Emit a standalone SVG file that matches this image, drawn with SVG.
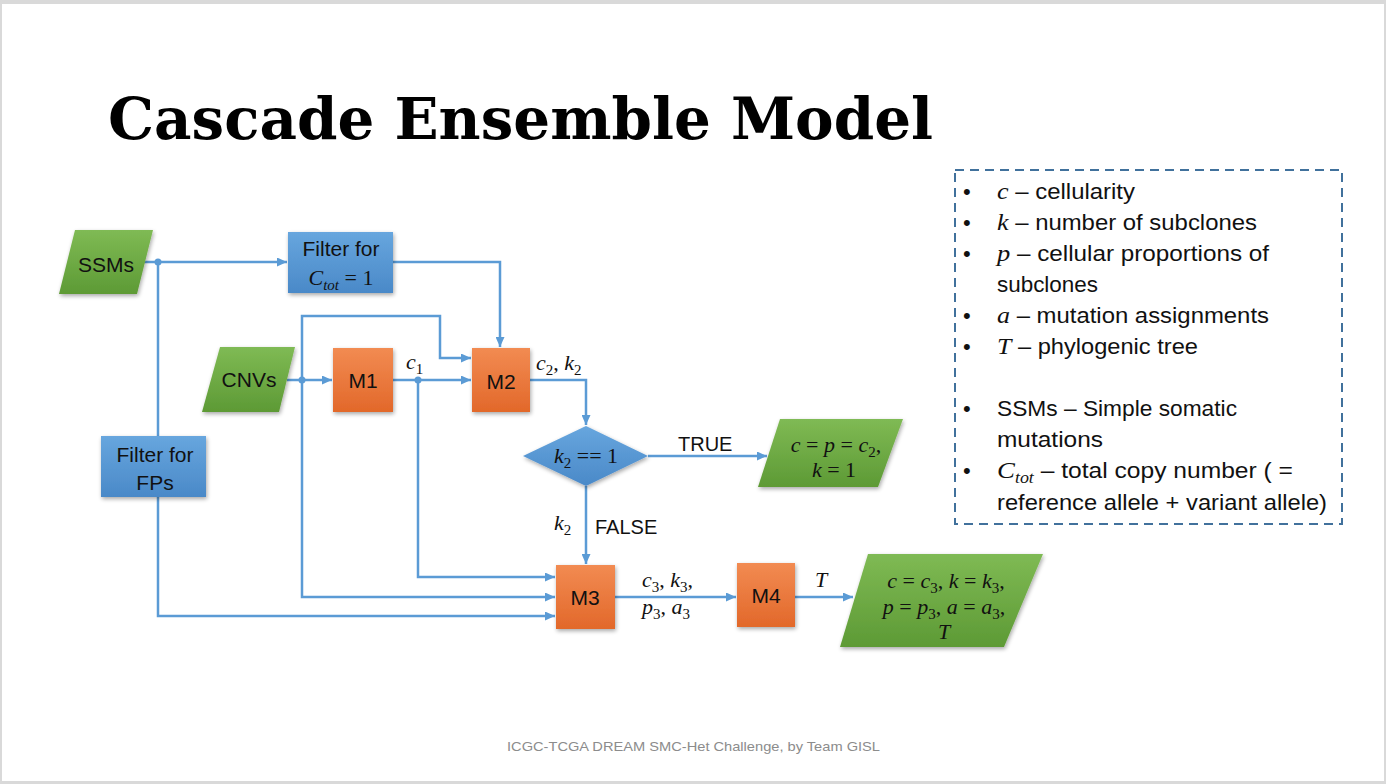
<svg xmlns="http://www.w3.org/2000/svg" width="1386" height="784" viewBox="0 0 1386 784">
  <defs>
    <linearGradient id="gBlue" x1="0" y1="0" x2="0" y2="1">
      <stop offset="0" stop-color="#67a6de"/>
      <stop offset="1" stop-color="#4a89c8"/>
    </linearGradient>
    <linearGradient id="gOrange" x1="0" y1="0" x2="0" y2="1">
      <stop offset="0" stop-color="#f28b52"/>
      <stop offset="1" stop-color="#e2682a"/>
    </linearGradient>
    <linearGradient id="gGreen" x1="0" y1="0" x2="0" y2="1">
      <stop offset="0" stop-color="#7fba54"/>
      <stop offset="1" stop-color="#5d9a35"/>
    </linearGradient>
    <filter id="shadow" x="-20%" y="-20%" width="150%" height="150%">
      <feGaussianBlur in="SourceAlpha" stdDeviation="2"/>
      <feOffset dx="1" dy="2" result="b"/>
      <feComponentTransfer><feFuncA type="linear" slope="0.35"/></feComponentTransfer>
      <feMerge><feMergeNode/><feMergeNode in="SourceGraphic"/></feMerge>
    </filter>
    <marker id="arrow" markerUnits="userSpaceOnUse" markerWidth="11" markerHeight="9" refX="10" refY="4.5" orient="auto">
      <path d="M0,0 L10,4.5 L0,9 z" fill="#5b9bd5"/>
    </marker>
    <style>
      .txt { font-family: "Liberation Sans", Arial, sans-serif; fill: #111; }
      .lbl { font-family: "Liberation Sans", Arial, sans-serif; font-size: 21px; fill: #111; text-anchor: middle; }
      .math { font-family: "Liberation Serif", "DejaVu Serif", serif; font-style: italic; fill: #111; }
      .mup { font-family: "Liberation Serif", "DejaVu Serif", serif; font-style: normal; }
      .sub { font-size: 15px; }
      .conn { fill: none; stroke: #5b9bd5; stroke-width: 2.5; }
      .dot { fill: #5b9bd5; }
      .blue { fill: url(#gBlue); filter: url(#shadow); }
      .orange { fill: url(#gOrange); filter: url(#shadow); }
      .green { fill: url(#gGreen); filter: url(#shadow); }
      .legend { font-family: "Liberation Sans", Arial, sans-serif; font-size: 22px; fill: #111; }
    </style>
  </defs>

  <!-- slide frame -->
  <rect x="0" y="0" width="1386" height="784" fill="#d9d9d9"/>
  <rect x="2" y="4" width="1382" height="777" fill="#ffffff"/>

  <!-- title -->
  <text x="108" y="139" font-family="DejaVu Serif, 'Liberation Serif', serif" font-weight="bold" font-size="58" fill="#000" textLength="825" lengthAdjust="spacingAndGlyphs">Cascade Ensemble Model</text>

  <!-- connectors -->
  <g id="connectors">
    <path class="conn" d="M142,262 H287" marker-end="url(#arrow)"/>
    <path class="conn" d="M158,262 V436"/>
    <path class="conn" d="M393,262 H500 V347" marker-end="url(#arrow)"/>
    <path class="conn" d="M287,380 H332" marker-end="url(#arrow)"/>
    <path class="conn" d="M302,380 V316 H440 V358 H471" marker-end="url(#arrow)"/>
    <path class="conn" d="M302,380 V597 H555" marker-end="url(#arrow)"/>
    <path class="conn" d="M393,380 H471" marker-end="url(#arrow)"/>
    <path class="conn" d="M418,380 V577 H555" marker-end="url(#arrow)"/>
    <path class="conn" d="M530,380 H586 V425" marker-end="url(#arrow)"/>
    <path class="conn" d="M648,456 H767" marker-end="url(#arrow)"/>
    <path class="conn" d="M586,486 V564" marker-end="url(#arrow)"/>
    <path class="conn" d="M158,497 V616 H555" marker-end="url(#arrow)"/>
    <path class="conn" d="M615,597 H736" marker-end="url(#arrow)"/>
    <path class="conn" d="M795,597 H853" marker-end="url(#arrow)"/>
    <circle class="dot" cx="158" cy="262" r="3.5"/>
    <circle class="dot" cx="302" cy="380" r="3.5"/>
    <circle class="dot" cx="418" cy="380" r="3.5"/>
  </g>

  <!-- connector labels -->
  <g id="edge-labels">
    <text class="math" x="406" y="369" font-size="22">c<tspan class="mup sub" dy="5">1</tspan></text>
    <text class="math" x="536" y="370" font-size="22">c<tspan class="mup sub" dy="5">2</tspan><tspan class="mup" dy="-5">, </tspan>k<tspan class="mup sub" dy="5">2</tspan></text>
    <text class="txt" x="678" y="451" font-size="20">TRUE</text>
    <text class="math" x="554" y="530" font-size="22">k<tspan class="mup sub" dy="5">2</tspan></text>
    <text class="txt" x="595" y="534" font-size="20">FALSE</text>
    <text class="math" x="642" y="587" font-size="22">c<tspan class="mup sub" dy="5">3</tspan><tspan class="mup" dy="-5">, </tspan>k<tspan class="mup sub" dy="5">3</tspan><tspan class="mup" dy="-5">,</tspan></text>
    <text class="math" x="642" y="614" font-size="22">p<tspan class="mup sub" dy="5">3</tspan><tspan class="mup" dy="-5">, </tspan>a<tspan class="mup sub" dy="5">3</tspan></text>
    <text class="math" x="815" y="587" font-size="22">T</text>
  </g>

  <!-- nodes -->
  <g id="ssms">
    <polygon class="green" points="75,230 153,230 137,294 59,294"/>
    <text class="lbl" x="106" y="272">SSMs</text>
  </g>
  <g id="filter-ctot">
    <rect class="blue" x="288" y="232" width="105" height="61"/>
    <text class="lbl" x="341" y="256">Filter for</text>
    <text class="math" x="341" y="285" font-size="22" text-anchor="middle">C<tspan class="sub" dy="5">tot</tspan><tspan class="mup" dy="-5"> = 1</tspan></text>
  </g>
  <g id="cnvs">
    <polygon class="green" points="220,347 295,347 279,412 202,412"/>
    <text class="lbl" x="249" y="387">CNVs</text>
  </g>
  <g id="m1">
    <rect class="orange" x="333" y="348" width="60" height="64"/>
    <text class="lbl" x="363" y="388">M1</text>
  </g>
  <g id="m2">
    <rect class="orange" x="472" y="348" width="58" height="64"/>
    <text class="lbl" x="501" y="389">M2</text>
  </g>
  <g id="decision">
    <polygon class="blue" points="586,426 648,456 586,486 523,456"/>
    <text class="math" x="586" y="463" font-size="22" text-anchor="middle">k<tspan class="mup sub" dy="5">2</tspan><tspan class="mup" dy="-5"> == 1</tspan></text>
  </g>
  <g id="result-single">
    <polygon class="green" points="780,419 903,419 878,487 758,487"/>
    <text class="math" x="836" y="452" font-size="22" text-anchor="middle">c<tspan class="mup"> = </tspan>p<tspan class="mup"> = </tspan>c<tspan class="mup sub" dy="5">2</tspan><tspan class="mup" dy="-5">,</tspan></text>
    <text class="math" x="834" y="477" font-size="22" text-anchor="middle">k<tspan class="mup"> = 1</tspan></text>
  </g>
  <g id="filter-fps">
    <rect class="blue" x="101" y="436" width="105" height="61"/>
    <text class="lbl" x="155" y="462">Filter for</text>
    <text class="lbl" x="155" y="490">FPs</text>
  </g>
  <g id="m3">
    <rect class="orange" x="556" y="565" width="59" height="64"/>
    <text class="lbl" x="585" y="605">M3</text>
  </g>
  <g id="m4">
    <rect class="orange" x="737" y="563" width="58" height="64"/>
    <text class="lbl" x="766" y="603">M4</text>
  </g>
  <g id="result-final">
    <polygon class="green" points="868,554 1043,554 1004,647 840,647"/>
    <text class="math" x="946" y="588" font-size="22" text-anchor="middle">c<tspan class="mup"> = </tspan>c<tspan class="mup sub" dy="5">3</tspan><tspan class="mup" dy="-5">, </tspan>k<tspan class="mup"> = </tspan>k<tspan class="mup sub" dy="5">3</tspan><tspan class="mup" dy="-5">,</tspan></text>
    <text class="math" x="944" y="614" font-size="22" text-anchor="middle">p<tspan class="mup"> = </tspan>p<tspan class="mup sub" dy="5">3</tspan><tspan class="mup" dy="-5">, </tspan>a<tspan class="mup"> = </tspan>a<tspan class="mup sub" dy="5">3</tspan><tspan class="mup" dy="-5">,</tspan></text>
    <text class="math" x="944" y="639" font-size="22" text-anchor="middle">T</text>
  </g>

  <!-- legend -->
  <g id="legend">
    <rect x="955" y="170" width="387" height="354" fill="none" stroke="#41719c" stroke-width="2" stroke-dasharray="9 6"/>
    <g class="legend">
      <text x="963" y="199">•</text>
      <text x="963" y="230">•</text>
      <text x="963" y="261">•</text>
      <text x="963" y="323">•</text>
      <text x="963" y="354">•</text>
      <text x="963" y="416">•</text>
      <text x="963" y="478">•</text>
      <text x="997" y="199" textLength="138" lengthAdjust="spacingAndGlyphs"><tspan class="math" font-size="24">c</tspan> – cellularity</text>
      <text x="997" y="230" textLength="260" lengthAdjust="spacingAndGlyphs"><tspan class="math" font-size="24">k</tspan> – number of subclones</text>
      <text x="997" y="261" textLength="272" lengthAdjust="spacingAndGlyphs"><tspan class="math" font-size="24">p</tspan> – cellular proportions of</text>
      <text x="997" y="292" textLength="101" lengthAdjust="spacingAndGlyphs">subclones</text>
      <text x="997" y="323" textLength="272" lengthAdjust="spacingAndGlyphs"><tspan class="math" font-size="24">a</tspan> – mutation assignments</text>
      <text x="997" y="354" textLength="201" lengthAdjust="spacingAndGlyphs"><tspan class="math" font-size="24">T</tspan> – phylogenic tree</text>
      <text x="997" y="416" textLength="240" lengthAdjust="spacingAndGlyphs">SSMs – Simple somatic</text>
      <text x="997" y="447" textLength="106" lengthAdjust="spacingAndGlyphs">mutations</text>
      <text x="997" y="478" textLength="296" lengthAdjust="spacingAndGlyphs"><tspan class="math" font-size="24">C</tspan><tspan class="math" font-size="16" dy="5">tot</tspan><tspan dy="-5"> – total copy number ( =</tspan></text>
      <text x="997" y="510" textLength="330" lengthAdjust="spacingAndGlyphs">reference allele + variant allele)</text>
    </g>
  </g>

  <!-- footer -->
  <text x="507" y="751" font-family="'Liberation Sans', Arial, sans-serif" font-size="13" fill="#8c8c8c" textLength="373" lengthAdjust="spacingAndGlyphs">ICGC-TCGA DREAM SMC-Het Challenge, by Team GISL</text>
</svg>
